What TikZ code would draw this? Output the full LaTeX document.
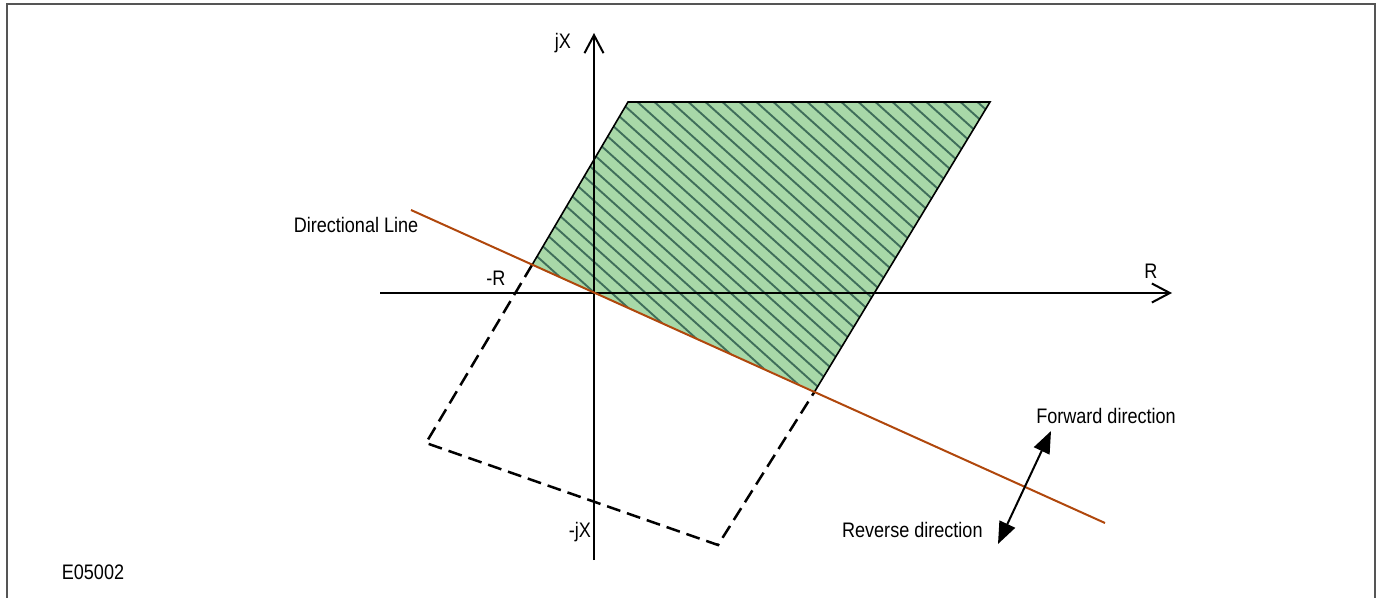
\documentclass[tikz,border=0pt]{standalone}
\usepackage{fontspec}
\setmainfont{Liberation Sans}[FakeStretch=0.86]
\usetikzlibrary{arrows.meta}
\definecolor{zonefill}{HTML}{A8D8A8}
\definecolor{hatchline}{HTML}{3F6E5A}
\definecolor{dirline}{HTML}{B0470C}
\definecolor{framegray}{HTML}{555555}
\begin{document}
\begin{tikzpicture}[x=0.5pt,y=-0.5pt,
  font=\fontsize{10.5}{12}\selectfont,
  lbl/.style={inner sep=0pt},
  axisline/.style={line width=1pt, -{Straight Barb[length=9pt,width=9.5pt,line width=1pt]}},
  zoneedge/.style={line width=0.8pt, black, line join=miter},
  dashedge/.style={line width=1.25pt, black, dash pattern=on 7pt off 3.5pt},
  hatch/.style={line width=0.95pt, hatchline},
  dirstyle/.style={line width=1pt, dirline},
  dblarrow/.style={line width=1pt, {Triangle[length=11pt,width=8.5pt]}-{Triangle[length=11pt,width=8.5pt]}},
  framestyle/.style={line width=1.2pt, framegray}]
\useasboundingbox (0,0) rectangle (1380,598);
% frame
\coordinate (fbl) at (7,600);
\coordinate (ftl) at (7,4);
\coordinate (ftr) at (1375,4);
\coordinate (fbr) at (1375,600);
\draw[framestyle] (fbl) -- (ftl) -- (ftr) -- (fbr);
% zone corners
\coordinate (zA) at (532,265);
\coordinate (zB) at (628,102);
\coordinate (zC) at (990,102);
\coordinate (zD) at (815,391);
\coordinate (O) at (594,293);
\coordinate (dA) at (426,443);
\coordinate (dB) at (718,545);
% fill + hatch
\fill[zonefill] (zA) -- (zB) -- (zC) -- (zD) -- (O) -- cycle;
\begin{scope}
  \clip (zA) -- (zB) -- (zC) -- (zD) -- (O) -- cycle;
  \foreach \x in {290,307,...,1010} {
    \draw[hatch] (\x,80) -- ++(500,450);
  }
\end{scope}
% axes
\coordinate (xl) at (380,293);
\coordinate (xr) at (1172,293);
\coordinate (yb) at (594,560);
\coordinate (yt) at (594,33);
\draw[axisline] (xl) -- (xr);
\draw[axisline] (yb) -- (yt);
% zone edges
\draw[zoneedge] (zA) -- (zB) -- (zC) -- (zD);
\draw[dashedge] (zA) -- (dA) -- (dB) -- (zD);
% directional line
\coordinate (dl1) at (411,210);
\coordinate (dl2) at (1105,523);
\draw[dirstyle] (dl1) -- (dl2);
% forward / reverse arrow
\coordinate (rv) at (998,544);
\coordinate (fw) at (1051,431);
\draw[dblarrow] (rv) -- (fw);
% labels
\node[lbl] (ljX) at (563,43) {jX};
\node[lbl] (lmR) at (496,278) {-R};
\node[lbl] (lR) at (1151,271) {R};
\node[lbl] (lmjX) at (580,532) {-jX};
\node[lbl] (ldir) at (356,225) {Directional Line};
\node[lbl] (lfw) at (1106,416) {Forward direction};
\node[lbl, anchor=east] (lrv) at (983,530) {Reverse direction};
\node[lbl] (lid) at (93,572) {E05002};
\end{tikzpicture}
\end{document}
